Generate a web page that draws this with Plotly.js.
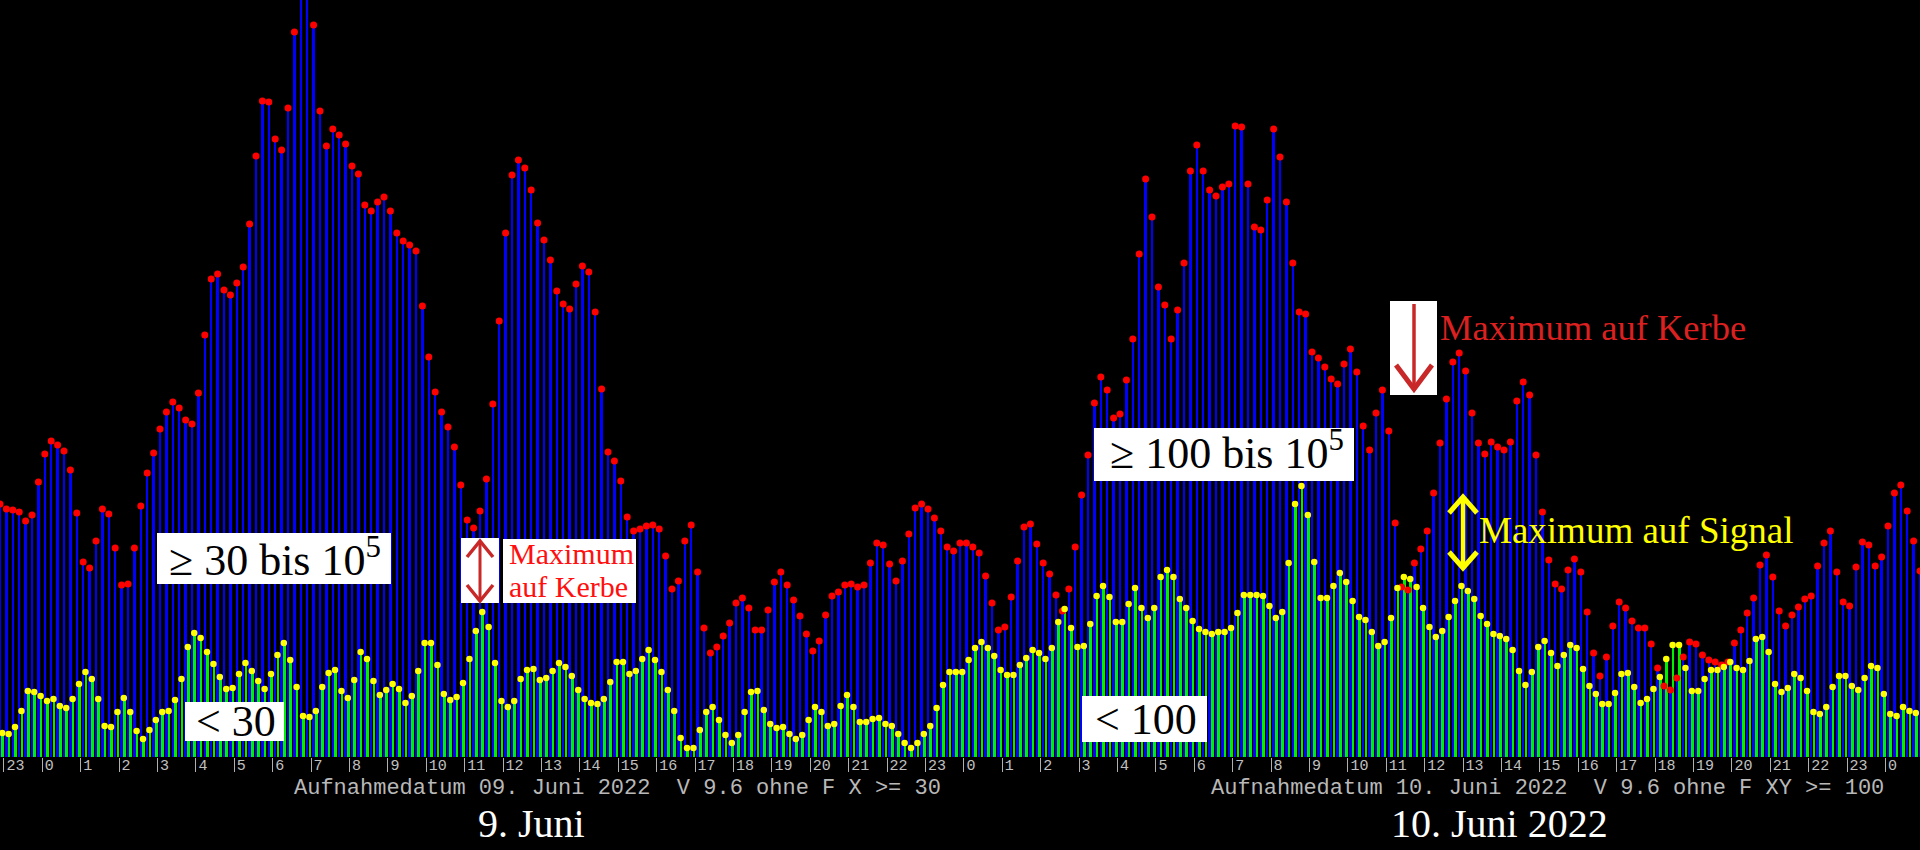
<!DOCTYPE html>
<html><head><meta charset="utf-8">
<script src="https://cdn.plot.ly/plotly-3.0.1.min.js"></script>
<style>html,body{margin:0;padding:0;background:#000;overflow:hidden}#chart{width:1920px;height:850px}</style>
</head><body><div id="chart"></div>
<script>
// Counts per 10-minute slot, from 22:54 on 8 June onwards (height units of the original plot)
const countsHigh = [
253,248,247,245,236,242,275,303,316,312,
306,287,244,195,189,216,248,243,209,172,
173,209,251,284,304,328,345,355,349,337,
333,364,422,478,483,467,462,474,490,533,
601,656,655,618,607,649,725,800,800,732,
646,611,628,622,613,591,583,552,546,555,
560,546,524,516,512,506,451,400,365,345,
330,310,272,237,229,246,278,353,436,524,
582,597,589,567,534,517,497,466,453,448,
473,491,485,445,368,305,296,276,240,226,
228,231,232,228,201,168,176,216,232,185,
129,104,110,121,134,154,159,149,127,127,
147,175,185,172,157,141,123,106,116,142,
161,165,172,173,170,172,194,214,212,193,
176,196,223,249,253,248,239,226,210,206,
214,214,210,204,181,154,127,130,160,196,
230,233,213,194,183,162,146,168,210,262,
302,354,380,367,339,343,377,418,503,578,
540,470,452,418,447,494,586,612,586,567,
561,570,573,631,630,573,530,527,557,628,
600,555,494,445,443,405,399,390,378,373,
393,408,385,331,307,344,367,326,234,170,
167,194,208,226,264,314,358,395,404,386,
344,314,303,315,310,307,315,356,375,362,
302,245,197,173,168,187,198,185,145,104,
81,100,131,155,149,136,129,129,113,89,
71,67,79,100,115,113,102,97,95,92,
95,114,127,144,159,192,202,180,146,131,
142,150,158,161,191,214,226,185,155,151,
190,215,212,191,200,231,264,272,246,216,
186];

const countsLow = [
24,23,30,46,66,65,61,56,58,51,
49,58,73,85,78,58,31,30,45,59,
45,26,18,27,37,45,46,57,78,110,
124,119,105,93,80,68,69,83,94,86,
76,68,83,102,114,97,70,41,40,46,
70,84,87,66,59,77,105,98,76,62,
67,73,68,54,61,86,114,114,92,63,
57,60,74,98,126,145,130,94,56,50,
56,78,87,88,77,79,86,94,90,81,
67,58,54,53,58,75,95,95,83,86,
98,107,97,85,67,46,19,9,9,27,
45,50,37,22,14,22,45,65,66,47,
33,29,30,23,18,22,37,50,45,31,
33,51,62,50,35,35,38,39,33,31,
23,14,9,14,23,31,49,72,85,85,
85,97,109,115,109,101,87,82,82,92,
99,107,104,98,109,135,148,129,110,111,
133,161,171,160,135,135,153,169,149,139,
149,180,187,180,158,149,136,128,125,123,
125,125,129,144,162,162,162,161,151,139,
145,194,253,271,242,195,159,159,171,184,
175,156,140,137,125,111,115,139,169,180,
178,170,149,130,120,126,140,156,171,166,
158,141,133,123,121,118,107,86,72,85,
110,116,104,91,102,112,109,88,71,63,
53,53,64,83,84,70,54,58,68,80,
98,112,112,89,66,66,78,87,87,90,
95,89,87,96,118,120,105,73,65,69,
83,79,66,45,43,50,70,81,81,71,
67,79,91,89,63,43,41,50,46,44];

const tickLabels = ['23',
'0','1','2','3','4','5','6','7','8','9','10','11','12','13','14','15','16','17','18','19','20','21','22','23',
'0','1','2','3','4','5','6','7','8','9','10','11','12','13','14','15','16','17','18','19','20','21','22','23',
'0'];

const footerLeft = 'Aufnahmedatum 09. Juni 2022\u00a0\u00a0V 9.6 ohne F X >= 30';
const footerRight = 'Aufnahmedatum 10. Juni 2022\u00a0\u00a0V 9.6 ohne F XY >= 100';
const dayLeft = '9. Juni';
const dayRight = '10. Juni 2022';

// time axis (hours since 9 June 00:00)
const firstSlot = -1.1016;
const slotHours = 1 / 6;
const lowShift = 0.07;
const xHigh = countsHigh.map((_, i) => firstSlot + i * slotHours);
const xLow = countsLow.map((_, i) => firstSlot + i * slotHours + lowShift);
const tickVals = tickLabels.map((_, i) => i - 1);

const W = 1920, PH = 757;
const px = x => x / W;
const py = y => (PH - y) / PH;

const traces = [
  {type:'bar', x:xHigh, y:countsHigh, width:0.066, marker:{color:'#0000ff', line:{width:0}}, hoverinfo:'skip'},
  {type:'bar', x:xLow, y:countsLow, width:0.066, marker:{color:'#00f000', line:{width:0}}, hoverinfo:'skip'},
  {type:'scatter', mode:'markers', x:xHigh, y:countsHigh, marker:{color:'#ff0000', size:7, line:{width:0}}, hoverinfo:'skip', cliponaxis:true},
  {type:'scatter', mode:'markers', x:xLow.map(v => v - 0.012), y:countsLow, marker:{color:'#ffff00', size:6.5, line:{width:0}}, hoverinfo:'skip', cliponaxis:true}
];

function rect(x0, x1, y0, y1) {
  return {type:'rect', xref:'paper', yref:'paper', x0:px(x0), x1:px(x1), y0:py(y1), y1:py(y0),
          fillcolor:'#ffffff', line:{width:0}, layer:'above'};
}
function path(pts, color, w) {
  const d = pts.map((p, i) => (i ? 'L' : 'M') + px(p[0]) + ',' + py(p[1])).join(' ');
  return {type:'path', xref:'paper', yref:'paper', path:d, line:{color:color, width:w}, layer:'above'};
}
function txt(text, x, yBottom, size, color, anchor, family) {
  return {text:text, xref:'paper', yref:'paper', x:px(x), y:py(yBottom), xanchor:anchor, yanchor:'bottom',
          showarrow:false, borderpad:0, font:{family:family || 'Liberation Serif', size:size, color:color}};
}

const darkRed = '#c82828';
const shapes = [
  rect(157, 391, 533, 584),
  rect(185, 284, 702, 741),
  rect(1094, 1354, 428, 481),
  rect(1082, 1207, 696, 742),
  rect(461, 499, 538, 603),
  rect(503, 636, 539, 603),
  rect(1390, 1437, 301, 395),
  // red double arrow (left)
  path([[480, 542], [480, 600]], darkRed, 3),
  path([[467, 557], [480, 541], [493, 557]], darkRed, 3.5),
  path([[467, 585], [480, 601], [493, 585]], darkRed, 3.5),
  // red down arrow (right)
  path([[1414, 304], [1414, 387]], darkRed, 3.5),
  path([[1396, 365], [1414, 389], [1432, 365]], darkRed, 5),
  // yellow double arrow
  path([[1463, 499], [1463, 565]], '#ffff00', 4.5),
  path([[1449, 513], [1463, 497], [1477, 513]], '#ffff00', 5),
  path([[1449, 552], [1463, 568], [1477, 552]], '#ffff00', 5)
];

const annotations = [
  txt('\u2265 30 bis 10<sup>5</sup>', 275, 586, 44, '#000', 'center'),
  txt('< 30', 236, 747, 44, '#000', 'center'),
  txt('\u2265 100 bis 10<sup>5</sup>', 1227, 479, 44, '#000', 'center'),
  txt('< 100', 1146, 745, 44, '#000', 'center'),
  txt('Maximum', 508, 571, 30, '#ff1010', 'left'),
  txt('auf Kerbe', 508, 604, 30, '#ff1010', 'left'),
  txt('Maximum auf Kerbe', 1439, 349, 36.5, '#dc2020', 'left'),
  txt('Maximum auf Signal', 1478, 552, 37, '#ffff00', 'left'),
  txt(footerLeft, 293, 802, 22, '#b8b8b8', 'left', 'Liberation Mono'),
  txt(footerRight, 1210, 802, 22, '#b8b8b8', 'left', 'Liberation Mono'),
  txt(dayLeft, 531, 847, 40, '#ffffff', 'center'),
  txt(dayRight, 1499, 847, 40, '#ffffff', 'center')
];

const layout = {
  width:1920, height:850,
  margin:{l:0, r:0, t:0, b:93, pad:0},
  paper_bgcolor:'#000', plot_bgcolor:'#000',
  showlegend:false, barmode:'overlay', bargap:0,
  xaxis:{range:[firstSlot, 48.898], tickmode:'array', tickvals:tickVals, ticktext:tickLabels,
         ticks:'outside', ticklen:14, tickwidth:1, tickcolor:'#b0b0b0',
         ticklabelposition:'outside right', ticklabelstandoff:-6, ticklabelshift:2,
         tickfont:{family:'Liberation Mono', size:15, color:'#c0c0c0'},
         showgrid:false, zeroline:false, showline:false, fixedrange:true},
  yaxis:{range:[0, PH], visible:false, showgrid:false, zeroline:false, fixedrange:true},
  shapes:shapes,
  annotations:annotations
};

Plotly.newPlot('chart', traces, layout, {staticPlot:true, displayModeBar:false});
</script>
</body></html>
